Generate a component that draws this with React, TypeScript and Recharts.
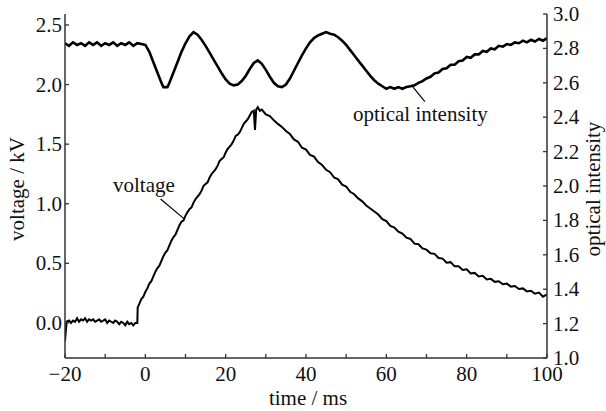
import React from 'react';
import { LineChart, Line, XAxis, YAxis, ReferenceLine, Customized } from 'recharts';

const FONT = '"Liberation Serif", "Times New Roman", serif';
const AXIS_COLOR = '#333';

const timeTicks = [-20, -10, 0, 10, 20, 30, 40, 50, 60, 70, 80, 90, 100];
const timeLabelled = [-20, 0, 20, 40, 60, 80, 100];
const voltageTicks = [0, 0.5, 1.0, 1.5, 2.0, 2.5];
const opticalTicks = [1.0, 1.2, 1.4, 1.6, 1.8, 2.0, 2.2, 2.4, 2.6, 2.8, 3.0];

// [time ms, voltage kV]
const voltageSeries: [number, number][] = [
  [-20, -0.15], [-19.6, 0.01], [-19, 0.02], [-18.5, 0.0], [-18, 0.02], [-17.5, 0.01], [-17, 0.04],
  [-16.5, 0.01], [-16, 0.03], [-15.5, 0.02], [-15, 0.04], [-14.5, 0.01], [-14, 0.03], [-13.5, 0.02],
  [-13, 0.03], [-12.5, 0.01], [-12, 0.02], [-11.5, 0.03], [-11, 0.01], [-10.5, 0.02], [-10, 0.03],
  [-9.5, 0.0], [-9, 0.02], [-8.5, 0.01], [-8, 0.0], [-7.5, 0.02], [-7, 0.01], [-6.5, -0.01],
  [-6, 0.01], [-5.5, 0.0], [-5, -0.02], [-4.5, 0.01], [-4, -0.01], [-3.5, 0.0], [-3, -0.02],
  [-2.5, 0.0], [-2, 0.0], [-1.9, 0.13], [-1.5, 0.16], [-1, 0.2], [-0.5, 0.22], [0, 0.26],
  [0.5, 0.29], [1, 0.33], [1.5, 0.35], [2, 0.39], [2.5, 0.43], [3, 0.46], [3.5, 0.48], [4, 0.52],
  [4.5, 0.56], [5, 0.59], [5.5, 0.61], [6, 0.65], [6.5, 0.69], [7, 0.72], [7.5, 0.74], [8, 0.78],
  [8.5, 0.82], [9, 0.85], [9.5, 0.86], [10, 0.9], [10.5, 0.93], [11, 0.955], [11.5, 0.97],
  [12, 1.01], [12.5, 1.04], [13, 1.06], [13.5, 1.08], [14, 1.11], [14.5, 1.15], [15, 1.165],
  [15.5, 1.18], [16, 1.22], [16.5, 1.25], [17, 1.27], [17.5, 1.29], [18, 1.32], [18.5, 1.36],
  [19, 1.375], [19.5, 1.39], [20, 1.43], [20.5, 1.46], [21, 1.48], [21.5, 1.5], [22, 1.53],
  [22.5, 1.57], [23, 1.58], [23.5, 1.6], [24, 1.635], [24.5, 1.67], [25, 1.69], [25.5, 1.71],
  [26, 1.74], [26.5, 1.77], [27, 1.78], [27.3, 1.62], [27.6, 1.79], [28, 1.81], [28.5, 1.78],
  [29, 1.79], [30, 1.75], [31, 1.735], [32, 1.7], [33, 1.67], [34, 1.645], [35, 1.61],
  [36, 1.585], [37, 1.54], [38, 1.52], [39, 1.47], [40, 1.455], [41, 1.41], [42, 1.395],
  [43, 1.35], [44, 1.325], [45, 1.285], [46, 1.265], [47, 1.22], [48, 1.205], [49, 1.16],
  [50, 1.145], [51, 1.1], [52, 1.08], [53, 1.045], [54, 1.02], [55, 0.985], [56, 0.96],
  [57, 0.935], [58, 0.91], [59, 0.87], [60, 0.855], [61, 0.815], [62, 0.8], [63, 0.765],
  [64, 0.75], [65, 0.715], [66, 0.705], [67, 0.665], [68, 0.66], [69, 0.625], [70, 0.615],
  [71, 0.585], [72, 0.58], [73, 0.545], [74, 0.54], [75, 0.505], [76, 0.51], [77, 0.475],
  [78, 0.475], [79, 0.445], [80, 0.45], [81, 0.415], [82, 0.42], [83, 0.39], [84, 0.395],
  [85, 0.365], [86, 0.37], [87, 0.345], [88, 0.35], [89, 0.325], [90, 0.33], [91, 0.305],
  [92, 0.31], [93, 0.285], [94, 0.29], [95, 0.265], [96, 0.27], [97, 0.245], [98, 0.255],
  [99, 0.22], [100, 0.24],
];

// [time ms, optical intensity]
const opticalSeries: [number, number][] = [
  [-20, 2.83], [-19, 2.815], [-18, 2.835], [-17, 2.82], [-16, 2.83], [-15, 2.815], [-14, 2.835],
  [-13, 2.82], [-12, 2.835], [-11, 2.815], [-10, 2.83], [-9, 2.82], [-8, 2.835], [-7, 2.815],
  [-6, 2.83], [-5, 2.82], [-4, 2.835], [-3, 2.815], [-2, 2.83], [-1, 2.825], [0, 2.82],
  [1, 2.78], [2, 2.72], [3, 2.66], [4, 2.6], [4.5, 2.575], [5.5, 2.575], [6, 2.6], [7, 2.66],
  [8, 2.72], [9, 2.78], [10, 2.83], [11, 2.87], [12, 2.895], [13, 2.88], [14, 2.85], [15, 2.815],
  [16, 2.775], [17, 2.735], [18, 2.695], [19, 2.655], [20, 2.62], [21, 2.595], [22, 2.585],
  [23, 2.59], [24, 2.61], [25, 2.64], [26, 2.68], [27, 2.715], [28, 2.73], [29, 2.71],
  [30, 2.675], [31, 2.635], [32, 2.6], [33, 2.58], [34, 2.575], [35, 2.59], [36, 2.625],
  [37, 2.67], [38, 2.715], [39, 2.76], [40, 2.8], [41, 2.835], [42, 2.86], [43, 2.875],
  [44, 2.885], [45, 2.895], [46, 2.885], [47, 2.88], [48, 2.865], [49, 2.845], [50, 2.82],
  [51, 2.79], [52, 2.76], [53, 2.73], [54, 2.7], [55, 2.67], [56, 2.64], [57, 2.615], [58, 2.595],
  [59, 2.58], [60, 2.565], [61, 2.575], [62, 2.565], [63, 2.575], [64, 2.565], [65, 2.575], [66, 2.58],
  [67, 2.585], [68, 2.6], [69, 2.61], [70, 2.625], [71, 2.635], [72, 2.655], [73, 2.66],
  [74, 2.68], [75, 2.685], [76, 2.705], [77, 2.705], [78, 2.725], [79, 2.73], [80, 2.75], [81, 2.745],
  [82, 2.765], [83, 2.765], [84, 2.785], [85, 2.78], [86, 2.8], [87, 2.795], [88, 2.815], [89, 2.81],
  [90, 2.825], [91, 2.82], [92, 2.835], [93, 2.83], [94, 2.845], [95, 2.835], [96, 2.85],
  [97, 2.84], [98, 2.855], [99, 2.845], [100, 2.86],
];

const voltageData = voltageSeries.map(([t, v]) => ({ t, v }));
const opticalData = opticalSeries.map(([t, o]) => ({ t, o }));

const TICK_LEN = 4;
const FS = 21;

const BottomTick = (props: any) => {
  const { x, y, payload } = props;
  const show = timeLabelled.includes(payload.value);
  return (
    <g>
      <line x1={x} y1={y} x2={x} y2={y - TICK_LEN} stroke={AXIS_COLOR} strokeWidth={1.3} />
      {show && (
        <text x={x} y={y + 23} textAnchor="middle" fontFamily={FONT} fontSize={FS} fill="#111">
          {payload.value < 0 ? '\u2212' + Math.abs(payload.value) : payload.value}
        </text>
      )}
    </g>
  );
};

const LeftTick = (props: any) => {
  const { x, y, payload } = props;
  return (
    <g>
      <line x1={x} y1={y} x2={x + TICK_LEN} y2={y} stroke={AXIS_COLOR} strokeWidth={1.3} />
      <text x={x - 3} y={y + 7} textAnchor="end" fontFamily={FONT} fontSize={FS} fill="#111">
        {Number(payload.value).toFixed(1)}
      </text>
    </g>
  );
};

const RightTick = (props: any) => {
  const { x, y, payload } = props;
  return (
    <g>
      <line x1={x} y1={y} x2={x - TICK_LEN} y2={y} stroke={AXIS_COLOR} strokeWidth={1.3} />
      <text x={x + 6} y={y + 7} textAnchor="start" fontFamily={FONT} fontSize={FS} fill="#111">
        {Number(payload.value).toFixed(1)}
      </text>
    </g>
  );
};

const Titles = () => (
  <g fontFamily={FONT} fontSize={FS} fill="#111">
    <text x={308} y={405} textAnchor="middle">time / ms</text>
    <text x={24} y={189} textAnchor="middle" transform="rotate(-90, 24, 189)">voltage / kV</text>
    <text x={600} y={189} textAnchor="middle" transform="rotate(-90, 600, 189)">optical intensity</text>
    <text x={353} y={121}>optical intensity</text>
    <text x={113} y={192}>voltage</text>
  </g>
);

export default function App() {
  return (
    <div style={{ position: 'absolute', left: 0, top: 0, width: 606, height: 411, fontFamily: FONT }}>
      <LineChart width={606} height={411} margin={{ top: 14, right: 29, bottom: 23, left: 35 }}>
        <XAxis
          xAxisId="b"
          type="number"
          dataKey="t"
          domain={[-20, 100]}
          ticks={timeTicks}
          height={30}
          tickSize={0}
          tickMargin={0}
          tickLine={false}
          tick={<BottomTick />}
          axisLine={{ stroke: AXIS_COLOR, strokeWidth: 1.5 }}
          allowDataOverflow
        />
        <XAxis
          xAxisId="top"
          orientation="top"
          type="number"
          domain={[-20, 100]}
          height={0}
          tick={false}
          tickLine={false}
          axisLine={{ stroke: AXIS_COLOR, strokeWidth: 1.5 }}
        />
        <YAxis
          yAxisId="left"
          type="number"
          domain={[-0.294, 2.592]}
          ticks={voltageTicks}
          width={30}
          tickSize={0}
          tickMargin={0}
          tickLine={false}
          tick={<LeftTick />}
          axisLine={{ stroke: AXIS_COLOR, strokeWidth: 1.5 }}
          allowDataOverflow
        />
        <YAxis
          yAxisId="right"
          orientation="right"
          type="number"
          domain={[1.0, 3.0]}
          ticks={opticalTicks}
          width={30}
          tickSize={0}
          tickMargin={0}
          tickLine={false}
          tick={<RightTick />}
          axisLine={{ stroke: AXIS_COLOR, strokeWidth: 1.5 }}
          allowDataOverflow
        />
        <Line
          xAxisId="b"
          yAxisId="right"
          data={opticalData}
          dataKey="o"
          type="linear"
          stroke="#000"
          strokeWidth={2.6}
          dot={false}
          isAnimationActive={false}
        />
        <Line
          xAxisId="b"
          yAxisId="left"
          data={voltageData}
          dataKey="v"
          type="linear"
          stroke="#000"
          strokeWidth={2}
          dot={false}
          isAnimationActive={false}
        />
        <ReferenceLine
          xAxisId="b"
          yAxisId="right"
          segment={[{ x: 66.6, y: 2.576 }, { x: 69.6, y: 2.49 }]}
          stroke="#000"
          strokeWidth={1.2}
          ifOverflow="visible"
        />
        <ReferenceLine
          xAxisId="b"
          yAxisId="left"
          segment={[{ x: 3.8, y: 1.04 }, { x: 9.6, y: 0.875 }]}
          stroke="#000"
          strokeWidth={1.2}
          ifOverflow="visible"
        />
        <Customized component={Titles} />
      </LineChart>
    </div>
  );
}
